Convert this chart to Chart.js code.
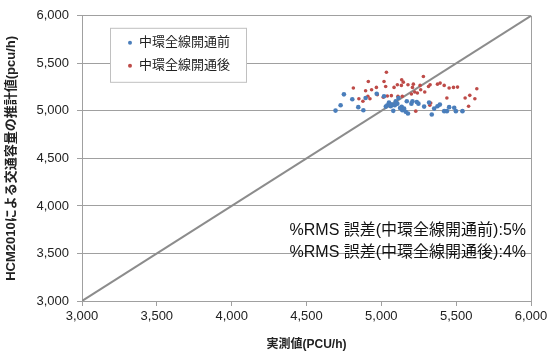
<!DOCTYPE html>
<html>
<head>
<meta charset="utf-8">
<script src="https://cdn.jsdelivr.net/npm/chart.js@4.4.1/dist/chart.umd.min.js"></script>
<style>
  body { margin: 0; background: #fff; }
  #wrap { width: 555px; height: 356px; }
</style>
</head>
<body>
<div id="wrap"><canvas id="myChart" width="555" height="356"></canvas></div>
<script>
const ctx = document.getElementById('myChart');

// 中環全線開通前 (blue) : [実測値, 推計値]
const beforeX = [4750, 4728, 4694, 4806, 4846, 4880, 4895, 4969, 5018, 5040, 5051, 5063, 5074, 5080, 5096, 5107, 5114, 5136, 5140, 5152, 5163, 5178, 5170, 5201, 5208, 5237, 5248, 5286, 5319, 5337, 5353, 5375, 5391, 5420, 5438, 5453, 5487, 5498, 5542, 5030, 5060, 5090, 5125];
const beforeY = [5174, 5059, 5003, 5122, 5039, 5007, 5135, 5180, 5153, 5059, 5087, 5049, 5066, 5000, 5101, 5076, 5135, 5042, 5007, 5024, 4990, 4972, 5101, 5076, 5101, 5094, 5076, 5045, 5087, 4962, 5024, 5049, 5066, 4997, 4997, 5039, 5032, 4997, 4997, 5045, 5070, 5060, 5030];

// 中環全線開通後 (red)
const afterX = [5034, 4913, 4813, 4895, 4935, 4967, 5018, 5029, 5085, 5107, 5136, 5147, 5134, 5178, 5208, 5214, 5259, 5281, 5315, 5326, 5375, 5393, 5420, 5453, 5482, 5509, 5638, 5591, 5560, 5625, 5438, 5583, 4850, 4877, 4910, 4924, 5013, 5040, 5067, 5111, 5140, 5201, 5223, 5241, 5263, 5290, 5324, 5330, 5230, 4973];
const afterY = [5406, 5309, 5240, 5212, 5222, 5247, 5309, 5257, 5247, 5274, 5326, 5302, 5268, 5274, 5247, 5281, 5268, 5361, 5257, 5274, 5281, 5292, 5268, 5240, 5247, 5250, 5233, 5163, 5135, 5128, 5135, 5049, 5128, 5101, 5153, 5128, 5143, 5156, 5160, 5153, 5153, 5177, 5198, 5188, 5222, 5198, 5059, 5083, 4997, 5170];

// y = x line
const lineX = [3000, 6000];

const seriesNames = ['中環全線開通前', '中環全線開通後'];
const rmsTexts = ['%RMS 誤差(中環全線開通前):5%', '%RMS 誤差(中環全線開通後):4%'];
const blue = '#4a7ebb';
const red = '#be4b48';

const jp = '"Liberation Sans", Arial, "Noto Sans CJK JP", sans-serif';

function pairs(xs, ys) {
  return xs.map((x, i) => ({ x: x, y: ys[i] }));
}

// legend box + rms texts drawn on top of the plot
const overlay = {
  id: 'overlay',
  afterDatasetsDraw(chart) {
    const c = chart.ctx;
    const a = chart.chartArea;
    c.save();
    // legend box
    const bx = a.left + 28, by = a.top + 12, bw = 136, bh = 54;
    c.fillStyle = '#fff';
    c.fillRect(bx, by, bw, bh);
    c.strokeStyle = '#c0c0c0';
    c.lineWidth = 1;
    c.strokeRect(bx + 0.5, by + 0.5, bw, bh);
    const cols = [blue, red];
    c.font = '13px ' + jp;
    c.textBaseline = 'middle';
    seriesNames.forEach((name, i) => {
      const yy = by + 15 + i * 23;
      c.fillStyle = cols[i];
      c.beginPath();
      c.arc(bx + 20, yy, 2, 0, Math.PI * 2);
      c.fill();
      c.fillStyle = '#222';
      c.textAlign = 'left';
      c.fillText(name, bx + 29, yy);
    });
    // rms texts
    c.font = '16px ' + jp;
    c.fillStyle = '#111';
    c.textAlign = 'right';
    rmsTexts.forEach((t, i) => {
      c.fillText(t, a.right - 5, a.top + 215 + i * 22);
    });
    c.restore();
  }
};

const myChart = new Chart(ctx, {
  type: 'scatter',
  data: {
    datasets: [
      {
        type: 'line',
        label: 'y=x',
        data: pairs(lineX, lineX),
        borderColor: '#8c8c8c',
        borderWidth: 2,
        pointRadius: 0,
        order: 3
      },
      {
        label: seriesNames[1],
        data: pairs(afterX, afterY),
        backgroundColor: red,
        borderWidth: 0,
        pointRadius: 1.8,
        order: 2
      },
      {
        label: seriesNames[0],
        data: pairs(beforeX, beforeY),
        backgroundColor: blue,
        borderWidth: 0,
        pointRadius: 2.3,
        order: 1
      }
    ]
  },
  options: {
    responsive: false,
    animation: false,
    layout: { padding: { left: 0, top: 13, right: 24, bottom: 0 } },
    plugins: {
      legend: { display: false },
      tooltip: { enabled: false }
    },
    scales: {
      x: {
        type: 'linear',
        min: 3000,
        max: 6000,
        afterFit: s => { s.height = 55; },
        ticks: {
          stepSize: 500,
          color: '#222',
          font: { family: jp, size: 13 },
          padding: 3,
          maxRotation: 0,
          callback: v => v.toLocaleString('en-US')
        },
        grid: {
          color: ctx => ctx.tick && ctx.tick.value === 6000 ? '#a0a0a0' : 'transparent',
          tickColor: '#a0a0a0',
          tickLength: 5
        },
        border: { color: '#a0a0a0' },
        title: {
          display: true,
          text: '実測値(PCU/h)',
          color: '#222',
          font: { family: jp, size: 12, weight: 'bold' },
          padding: { top: 3 }
        }
      },
      y: {
        min: 3000,
        max: 6000,
        afterFit: s => { s.width = 82; },
        ticks: {
          stepSize: 500,
          color: '#222',
          font: { family: jp, size: 13 },
          padding: 8,
          callback: v => v.toLocaleString('en-US')
        },
        grid: {
          color: '#a0a0a0',
          tickColor: '#a0a0a0',
          tickLength: 5
        },
        border: { color: '#a0a0a0' },
        title: {
          display: true,
          text: 'HCM2010による交通容量の推計値(pcu/h)',
          color: '#222',
          font: { family: jp, size: 13, weight: 'bold' },
          padding: { bottom: 2 }
        }
      }
    }
  },
  plugins: [overlay]
});
</script>
</body>
</html>
